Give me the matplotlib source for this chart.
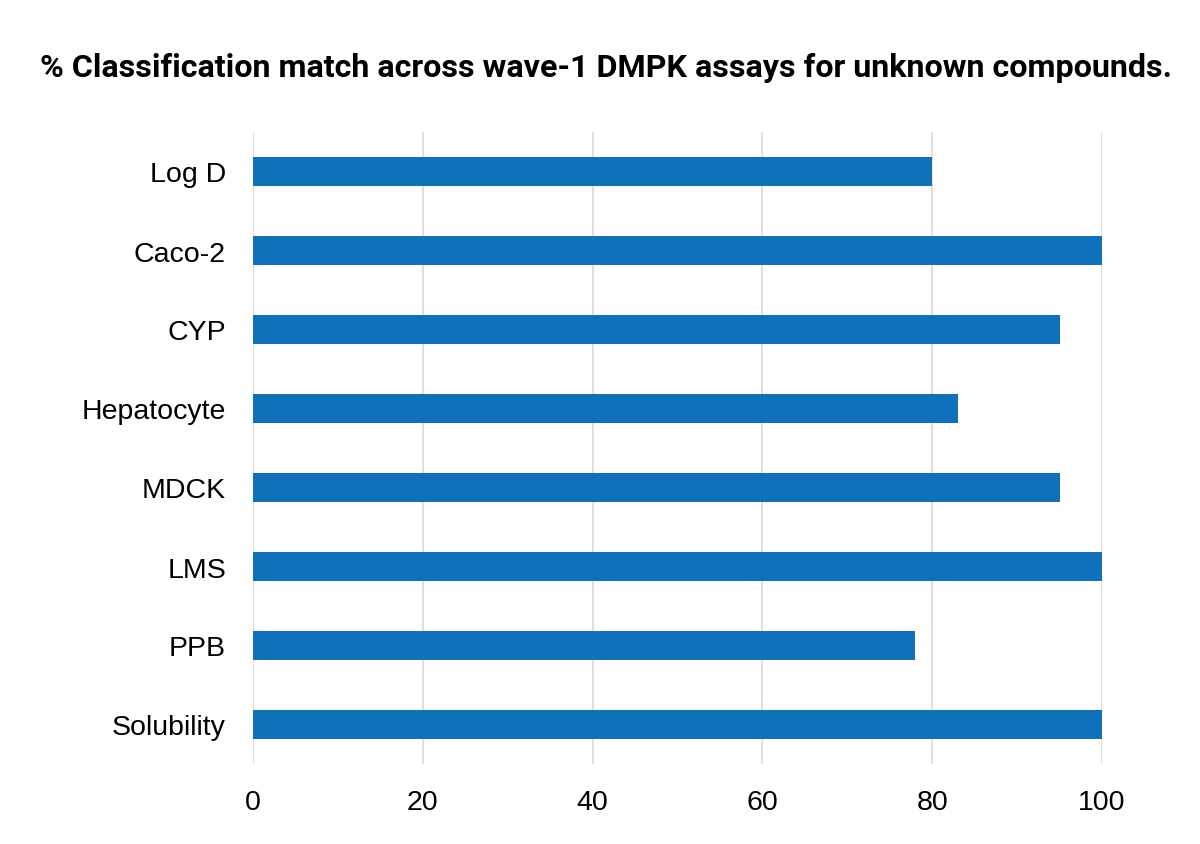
import matplotlib
matplotlib.use("Agg")
import matplotlib.pyplot as plt

categories = ["Log D", "Caco-2", "CYP", "Hepatocyte", "MDCK", "LMS", "PPB", "Solubility"]
values = [80, 100, 95, 83, 95, 100, 78, 100]
xticks = [0, 20, 40, 60, 80, 100]
title = "% Classification match across wave-1 DMPK assays for unknown compounds."

fig = plt.figure(figsize=(12, 8.45), dpi=100)
ax = fig.add_axes([253/1200, 1-765/845, (1102-253)/1200, (765-133)/845])

ypos = list(range(len(categories)))
ax.barh(ypos, values, height=0.355, color="#1070BA", zorder=3)
ax.set_yticks(ypos)
ax.set_yticklabels(categories, fontfamily="Liberation Sans", fontsize=20.5)
ax.set_ylim(len(categories) - 0.5, -0.5)
ax.set_xlim(0, 100)
ax.set_xticks(xticks)
ax.set_xticklabels([str(t) for t in xticks], fontfamily="Liberation Sans", fontsize=20.5)
ax.tick_params(axis="y", length=0, pad=19.5)
ax.tick_params(axis="x", length=0, pad=18)
ax.grid(axis="x", color="#d9d9d9", linewidth=1.2, zorder=0)
for s in ax.spines.values():
    s.set_visible(False)

fig.text(606/1200, 1-68/845, title, ha="center", va="center",
         fontfamily="Roboto", fontweight="bold", fontsize=23.2)

fig.savefig("out.png", dpi=100, facecolor="white")
